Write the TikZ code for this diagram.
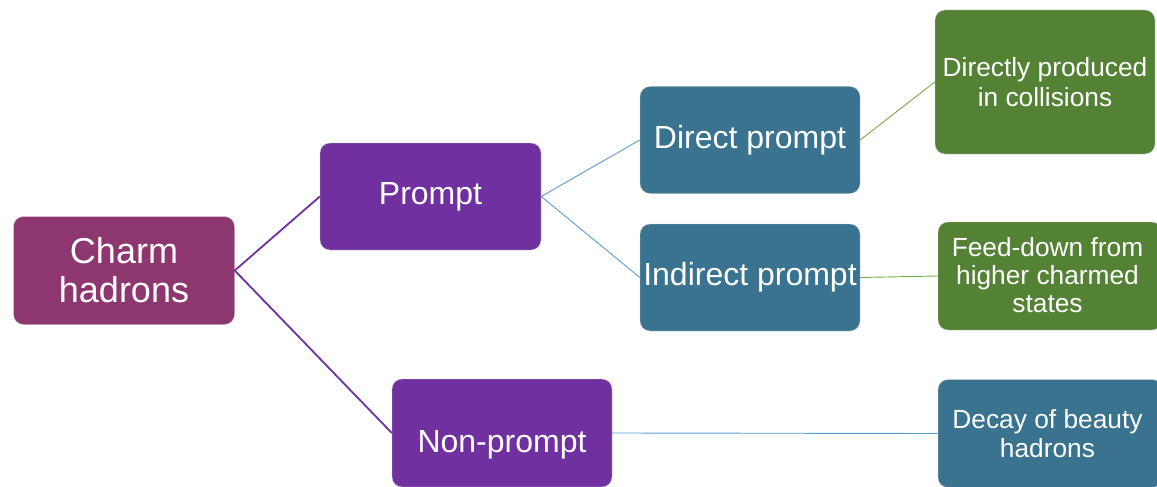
\documentclass[tikz,border=0pt]{standalone}
\usepackage{fontspec}
\setmainfont{Liberation Sans}
\definecolor{charmc}{HTML}{8E3670}
\definecolor{purp}{HTML}{7030A0}
\definecolor{teal}{HTML}{3A7390}
\definecolor{grn}{HTML}{548235}
\definecolor{lblue}{HTML}{5B9BD5}
\definecolor{lgreen}{HTML}{70AD47}
\begin{document}
\begin{tikzpicture}[x=1pt,y=1pt,
  box/.style={rounded corners=10pt, draw=white!80!black, line width=0.4pt, text=white, align=center, inner sep=0pt},
  big/.style={font=\fontsize{36}{39}\selectfont},
  mid/.style={font=\fontsize{32}{36}\selectfont},
  small/.style={font=\fontsize{26.3}{29.5}\selectfont},
  purline/.style={draw=purp, line width=1.8pt},
  blueline/.style={draw=lblue, line width=0.9pt},
  greenline/.style={draw=lgreen, line width=0.9pt},
  txt/.style={text=white, align=center, inner sep=0pt}]
\useasboundingbox (0,0) rectangle (1157,-487);
\clip (0,0) rectangle (1157,-487);
\node[box, big, fill=charmc, minimum width=221pt, minimum height=108pt] (charm) at (124,-270.5) {Charm\\hadrons};
\node[box, mid, fill=purp, minimum width=221pt, minimum height=107pt] (prompt) at (430.5,-196.5) {\raisebox{-3pt}{Prompt}};
\node[box, fill=purp, minimum width=220pt, minimum height=108pt] (nonprompt) at (502,-433) {};
\node[txt, mid] (nonpromptlabel) at (502,-445) {Non-prompt};
\node[box, mid, fill=teal, minimum width=220pt, minimum height=107pt] (direct) at (750,-140) {\raisebox{-3pt}{Direct prompt}};
\node[box, mid, fill=teal, minimum width=220pt, minimum height=107pt] (indirect) at (750,-277.5) {\raisebox{-3pt}{Indirect prompt}};
\node[box, small, fill=grn, minimum width=220pt, minimum height=144pt] (directly) at (1045,-82) {Directly produced\\in collisions};
\node[box, fill=grn, minimum width=224pt, minimum height=108pt] (feed) at (1050,-276) {};
\node[txt, font=\fontsize{26.3}{28}\selectfont] (feedlabel) at (1047.5,-275.5) {Feed-down from\\higher charmed\\states};
\node[box, fill=teal, minimum width=224pt, minimum height=108pt] (decay) at (1050,-433.5) {};
\node[txt, small] (decaylabel) at (1047.5,-433.5) {Decay of beauty\\hadrons};
\draw[purline] (prompt.west) -- (charm.east) -- (nonprompt.west);
\draw[blueline] (direct.west) -- (prompt.east) -- (indirect.west);
\draw[greenline] (direct.east) -- (directly.west);
\draw[greenline] (indirect.east) -- (feed.west);
\draw[blueline] (nonprompt.east) -- (decay.west);
\end{tikzpicture}
\end{document}
